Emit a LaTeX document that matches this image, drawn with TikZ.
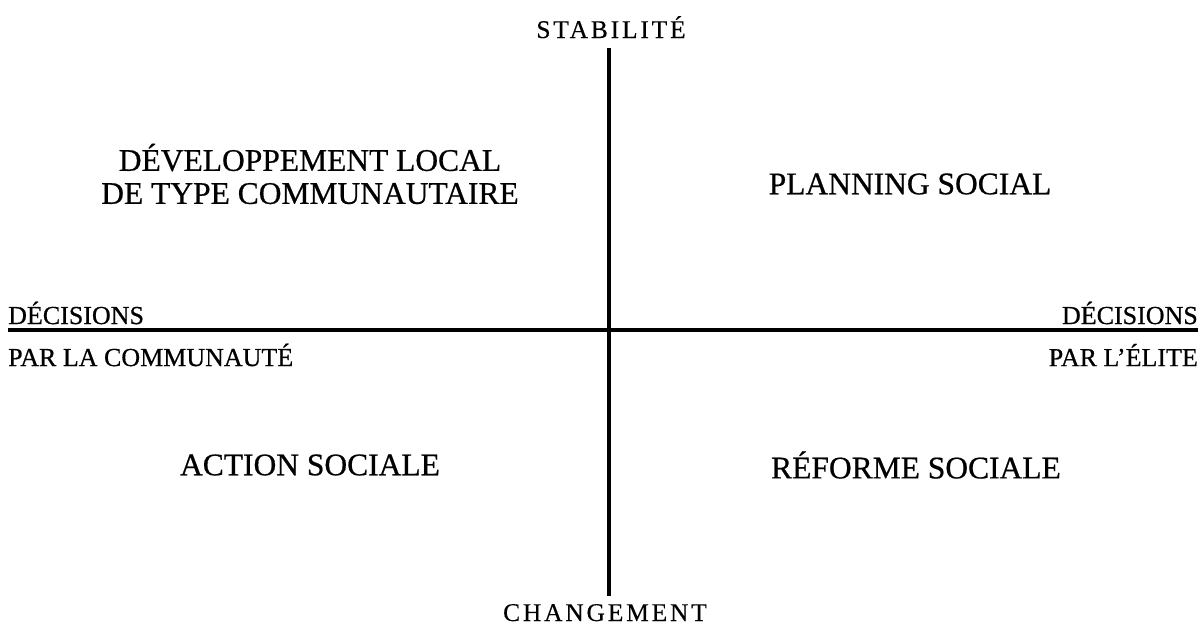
\documentclass[tikz,border=0pt]{standalone}
\usepackage{fontspec}
\setmainfont{Liberation Serif}
\begin{document}
\begin{tikzpicture}[x=1pt,y=1pt,
  quad/.style={font=\fontsize{31.5}{33}\selectfont\addfontfeature{FakeBold=0.6}, align=center, inner sep=0pt},
  side/.style={font=\fontsize{26}{30}\selectfont\addfontfeature{FakeBold=0.6}, inner sep=0pt},
  pole/.style={font=\fontsize{25.5}{30}\selectfont\addfontfeature{LetterSpace=11,FakeBold=0.3}, inner sep=0pt},
  axis/.style={line width=4pt}]
\useasboundingbox (0,0) rectangle (1198,-626);
\coordinate (vt) at (609,-48);
\coordinate (vb) at (609,-596);
\coordinate (hl) at (8,-330);
\coordinate (hr) at (1198,-330);
\draw[axis] (vt) -- (vb);
\draw[axis] (hl) -- (hr);
\node[pole, anchor=base] (stab) at (611,-38) {STABILITÉ};
\node[pole, anchor=base] (chg) at (605,-621) {CHANGEMENT};
\node[quad] (dev) at (310,-174) {DÉVELOPPEMENT LOCAL\\DE TYPE COMMUNAUTAIRE};
\node[quad] (plan) at (910,-184) {PLANNING SOCIAL};
\node[quad] (act) at (310,-465) {ACTION SOCIALE};
\node[quad] (ref) at (916,-465) {RÉFORME SOCIALE};
\node[side, anchor=west] (dl) at (8,-313) {DÉCISIONS};
\node[side, anchor=west] (pl) at (8,-355) {PAR LA COMMUNAUTÉ};
\node[side, anchor=east] (dr) at (1198,-313) {DÉCISIONS};
\node[side, anchor=east] (pr) at (1198,-355) {PAR L’ÉLITE};
\end{tikzpicture}
\end{document}
